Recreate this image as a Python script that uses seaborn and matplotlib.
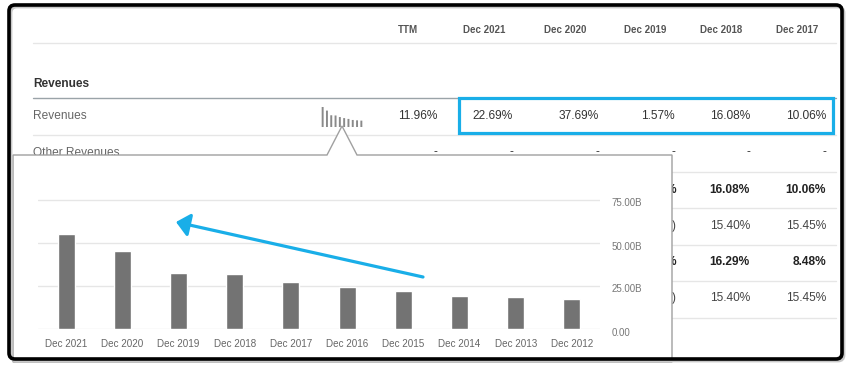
import numpy as np
import pandas as pd
import matplotlib
matplotlib.use("Agg")
from matplotlib import pyplot as plt
from matplotlib.patches import Polygon, Rectangle, FancyBboxPatch
from matplotlib.transforms import ScaledTranslation
import seaborn as sns

# Revenue history shown in the popup (billions)
periods = ["Dec 2021", "Dec 2020", "Dec 2019", "Dec 2018", "Dec 2017",
           "Dec 2016", "Dec 2015", "Dec 2014", "Dec 2013", "Dec 2012"]
revenue_b = [55.2, 45.3, 32.4, 31.8, 27.5, 24.6, 22.3, 19.4, 18.4, 17.6]
y_ticks = [0, 25, 50, 75]
y_tick_labels = ["0.00", "25.00B", "50.00B", "75.00B"]

# Table behind the popup
header_cols = ["TTM", "Dec 2021", "Dec 2020", "Dec 2019", "Dec 2018", "Dec 2017"]
revenue_growth = ["11.96%", "22.69%", "37.69%", "1.57%", "16.08%", "10.06%"]
other_revenues = ["-", "-", "-", "-", "-", "-"]
hidden_rows_2018 = ["16.08%", "15.40%", "16.29%", "15.40%"]
hidden_rows_2017 = ["10.06%", "15.45%", "8.48%", "15.45%"]
hidden_rows_bold = [True, False, True, False]
hidden_rows_2019_tail = ["%", ")", "%", ")"]

W, H = 850, 368
BLUE = "#19aee8"

sns.set_theme(style="white")
plt.rcParams["font.family"] = ["Liberation Sans", "DejaVu Sans"]


def px_rect(left, top, right, bottom):
    return [left / W, 1 - bottom / H, (right - left) / W, (bottom - top) / H]


fig = plt.figure(figsize=(W / 100, H / 100), dpi=100)
fig.patch.set_facecolor("white")

# Background layer in pixel coordinates
bg = fig.add_axes([0, 0, 1, 1], zorder=0)
bg.set_xlim(0, W)
bg.set_ylim(H, 0)
bg.axis("off")

# Header row
header_x = [408, 484, 565, 645, 721, 797]
for x, lab in zip(header_x, header_cols):
    bg.text(x, 30, lab, ha="center", va="center", fontsize=7, fontweight="bold", color="#555555")
bg.plot([33, 836], [43, 43], color="#e6e6e6", lw=1)

bg.text(33, 84, "Revenues", ha="left", va="center", fontsize=8.6, fontweight="bold", color="#333333")
bg.plot([33, 836], [98, 98], color="#9aa3a8", lw=1)

# Revenues row
value_x = [437, 513, 599, 675, 750, 826]
bg.text(33, 116, "Revenues", ha="left", va="center", fontsize=8.6, color="#666666")
for x, v in zip(value_x, revenue_growth):
    bg.text(x, 116, v, ha="right", va="center", fontsize=8.6, color="#333333")
bg.add_patch(Rectangle((459, 98), 374, 35, fill=False, edgecolor=BLUE, lw=2.3, zorder=4))
bg.plot([33, 836], [135, 135], color="#e6e6e6", lw=1)

# Other revenues row (mostly hidden by popup)
bg.text(33, 153, "Other Revenues", ha="left", va="center", fontsize=8.6, color="#666666")
for x, v in zip(value_x, other_revenues):
    bg.text(x, 152, v, ha="right", va="center", fontsize=8.6, color="#333333")

# Rows hidden behind the popup
row_y = [190, 226, 262, 298]
for y in [172, 208, 245, 281, 318]:
    bg.plot([33, 836], [y, y], color="#e6e6e6", lw=1)
for y, a, b, bold, tail in zip(row_y, hidden_rows_2018, hidden_rows_2017, hidden_rows_bold, hidden_rows_2019_tail):
    fw = "bold" if bold else "normal"
    col = "#222222" if bold else "#444444"
    bg.text(750, y, a, ha="right", va="center", fontsize=8.6, fontweight=fw, color=col)
    bg.text(826, y, b, ha="right", va="center", fontsize=8.6, fontweight=fw, color=col)
    bg.text(676, y, tail, ha="right", va="center", fontsize=8.6, fontweight=fw, color=col)

# Popup box with pointer
popup = Polygon([(13, 362), (13, 155), (327, 155), (342, 126), (357, 155), (672, 155), (672, 362)],
                closed=True, facecolor="white", edgecolor="#a0a0a0", lw=1, zorder=10)
bg.add_patch(popup)

df = pd.DataFrame({"period": periods, "revenue": revenue_b})

# Sparkline in the table cell
spark = fig.add_axes(px_rect(320.5, 107, 363.5, 127), zorder=1)
spark.patch.set_alpha(0)
sns.barplot(data=df, x="period", y="revenue", color="#8a8a8a", saturation=1, width=0.45,
            linewidth=0, ax=spark)
for p in spark.patches:
    p.set_snap(False)
spark.set_ylim(0, max(revenue_b))
spark.axis("off")

# Popup bar chart
ax = fig.add_axes(px_rect(38, 329 - 76 * 1.72, 600, 329), zorder=2)
ax.patch.set_alpha(0)
sns.barplot(data=df, x="period", y="revenue", color="#737373", saturation=1, width=0.3, ax=ax)
ax.set_xlim(-0.5, len(periods) - 0.5)
ax.set_ylim(0, 76)
ax.set_xlabel("")
ax.set_ylabel("")
for s in ax.spines.values():
    s.set_visible(False)
ax.yaxis.tick_right()
ax.set_yticks(y_ticks)
ax.set_yticklabels(y_tick_labels)
ax.grid(axis="y", color="#e6e6e6", lw=1)
ax.grid(axis="x", visible=False)
ax.set_axisbelow(True)
ax.tick_params(axis="y", length=0, pad=8.5, labelsize=7, labelcolor="#777777")
ax.tick_params(axis="x", length=0, pad=7, labelsize=7.1, labelcolor="#666666")
for lab in ax.get_yticklabels():
    lab.set_transform(lab.get_transform() + ScaledTranslation(0, -2.5 / 100, fig.dpi_scale_trans))

# Overlay: arrow and screenshot frame
top = fig.add_axes([0, 0, 1, 1], zorder=5)
top.set_xlim(0, W)
top.set_ylim(H, 0)
top.axis("off")
top.patch.set_alpha(0)
top.annotate("", xy=(176, 222), xytext=(423, 277),
             arrowprops=dict(arrowstyle="-|>,head_length=0.4,head_width=0.35", color=BLUE,
                             lw=2.3, mutation_scale=20, shrinkA=0, shrinkB=0))
top.add_patch(FancyBboxPatch((11, 7), 833, 354, boxstyle="round,pad=0,rounding_size=6",
                             fill=False, edgecolor="#c8c8c8", lw=2))
top.add_patch(FancyBboxPatch((9, 5), 833, 354, boxstyle="round,pad=0,rounding_size=6",
                             fill=False, edgecolor="black", lw=2.6))

fig.savefig("out.png", dpi=100)
